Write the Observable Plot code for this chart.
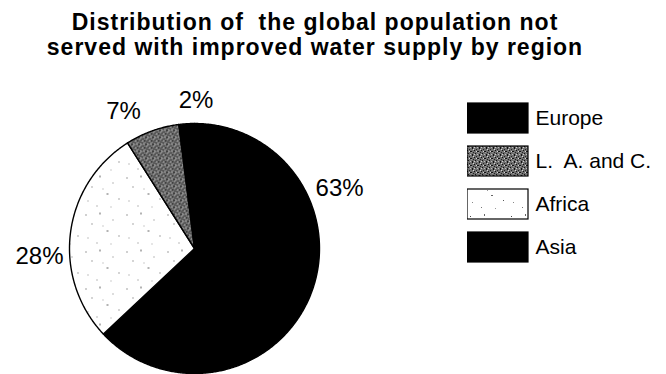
<!DOCTYPE html>
<html>
<head>
<meta charset="utf-8">
<script src="https://cdn.jsdelivr.net/npm/d3@7"></script>
<script src="https://cdn.jsdelivr.net/npm/@observablehq/plot@0.6"></script>
<style>
  html, body { margin: 0; padding: 0; background: #fff; overflow: hidden; }
  #chart { position: relative; width: 666px; height: 374px; color: #000;
           font-family: "Liberation Sans", Arial, Helvetica, sans-serif; }
  #title { position: absolute; left: 0; top: 0; width: 630px; padding-top: 10px;
           font-weight: 700; font-size: 23px; line-height: 25px; letter-spacing: 1px;
           text-align: center; white-space: pre; }
  #pie { position: absolute; left: 0; top: 62px; }
  #legend { position: absolute; left: 467px; top: 101px; }
  #legend text { white-space: pre; }
</style>
</head>
<body>
<!-- fill textures for the hatched regions -->
<svg width="0" height="0" style="position:absolute">
  <defs>
    <pattern id="laTexture" width="7" height="7" patternUnits="userSpaceOnUse">
      <rect width="7" height="7" fill="#707070"/>
      <rect x="0" y="0" width="1" height="1" fill="#111"/>
      <rect x="3" y="1" width="2" height="1" fill="#111"/>
      <rect x="1" y="3" width="1" height="1" fill="#111"/>
      <rect x="5" y="4" width="1" height="2" fill="#111"/>
      <rect x="6" y="2" width="1" height="1" fill="#222"/>
      <rect x="2" y="6" width="1" height="1" fill="#222"/>
      <rect x="2" y="1" width="1" height="1" fill="#d8d8d8"/>
      <rect x="6" y="6" width="1" height="1" fill="#d8d8d8"/>
      <rect x="0" y="4" width="1" height="1" fill="#cfcfcf"/>
      <rect x="3" y="4" width="1" height="1" fill="#bbb"/>
      <rect x="4" y="2" width="1" height="1" fill="#999"/>
    </pattern>
    <pattern id="africaTexture" width="41" height="37" patternUnits="userSpaceOnUse">
      <rect width="41" height="37" fill="#fff"/>
      <rect x="3" y="4" width="1" height="1" fill="#444"/>
      <rect x="17" y="2" width="1" height="2" fill="#666"/>
      <rect x="9" y="13" width="1" height="1" fill="#555"/>
      <rect x="30" y="9" width="1" height="1" fill="#777"/>
      <rect x="24" y="20" width="2" height="1" fill="#666"/>
      <rect x="5" y="27" width="1" height="1" fill="#888"/>
      <rect x="36" y="25" width="1" height="1" fill="#555"/>
      <rect x="14" y="32" width="1" height="1" fill="#777"/>
      <rect x="28" y="33" width="1" height="1" fill="#999"/>
      <rect x="20" y="15" width="1" height="1" fill="#999"/>
    </pattern>
  </defs>
</svg>

<div id="chart">
  <div id="title">Distribution of  the global population not
served with improved water supply by region</div>
</div>

<script>
// Regions in legend order, with their share of the unserved population (%)
const regions = ["Europe", "L.  A. and C.", "Africa", "Asia"];
const shares = [2, 7, 28, 63];
const fills = ["#000", "url(#laTexture)", "url(#africaTexture)", "#000"];

// Where each percentage label sits around the pie: [angle in degrees clockwise from 12 o'clock, distance in radii]
const labelPlacement = new Map([
  ["Asia", [67.5, 1.256]],
  ["Africa", [267, 1.242]],
  ["L.  A. and C.", [332.7, 1.238]],
  ["Europe", [0.6, 1.184]]
]);

const records = regions.map((region, i) => ({region, share: shares[i]}));

// Slices run clockwise from the top: Asia, Africa, L. A. and C., Europe
const arcs = d3.pie().sort(null).value(d => d.share)(records.slice().reverse());

// Each slice as a closed polygon in unit-circle coordinates (y up)
const slicePoints = [];
for (const a of arcs) {
  const region = a.data.region;
  slicePoints.push({region, x: 0, y: 0});
  const n = Math.max(2, Math.ceil((a.endAngle - a.startAngle) / (Math.PI / 360)));
  for (let k = 0; k <= n; ++k) {
    const t = a.startAngle + (a.endAngle - a.startAngle) * k / n;
    slicePoints.push({region, x: Math.sin(t), y: Math.cos(t)});
  }
  slicePoints.push({region, x: 0, y: 0});
}

const labels = records.map(d => {
  const [deg, dist] = labelPlacement.get(d.region);
  const t = deg * Math.PI / 180;
  return {text: `${d.share}%`, x: dist * Math.sin(t), y: dist * Math.cos(t)};
});

const fontFamily = '"Liberation Sans", Arial, Helvetica, sans-serif';

const pie = Plot.plot({
  width: 460,
  height: 312,
  marginLeft: 69,
  marginRight: 141,
  marginTop: 61,
  marginBottom: 1,
  x: {domain: [-1, 1], axis: null},
  y: {domain: [-1, 1], axis: null},
  color: {type: "ordinal", domain: regions, range: fills},
  style: {fontFamily, background: "transparent", color: "#000"},
  marks: [
    Plot.line(slicePoints, {
      x: "x", y: "y", z: "region", fill: "region",
      stroke: "#000", strokeWidth: 1.4, strokeLinejoin: "round"
    }),
    Plot.text(labels, {
      x: "x", y: "y", text: "text",
      fontSize: 24, fill: "#000", textAnchor: "middle", lineAnchor: "middle"
    })
  ]
});
pie.id = "pie";

const legend = Plot.plot({
  width: 201,
  height: 163,
  marginLeft: 0,
  marginRight: 140,
  marginTop: 2,
  marginBottom: 2,
  x: {axis: null},
  y: {type: "band", domain: regions, paddingInner: 0.31, paddingOuter: 0, axis: null},
  color: {type: "ordinal", domain: regions, range: fills},
  style: {fontFamily, background: "transparent", color: "#000"},
  marks: [
    Plot.cell(regions, {y: d => d, fill: d => d, stroke: "#000", strokeWidth: 1.2, inset: 0}),
    Plot.text(regions, {
      y: d => d, text: d => d, frameAnchor: "right",
      textAnchor: "start", dx: 7, fontSize: 21, fill: "#000"
    })
  ]
});
legend.id = "legend";

const chart = document.getElementById("chart");
chart.appendChild(pie);
chart.appendChild(legend);
</script>
</body>
</html>
